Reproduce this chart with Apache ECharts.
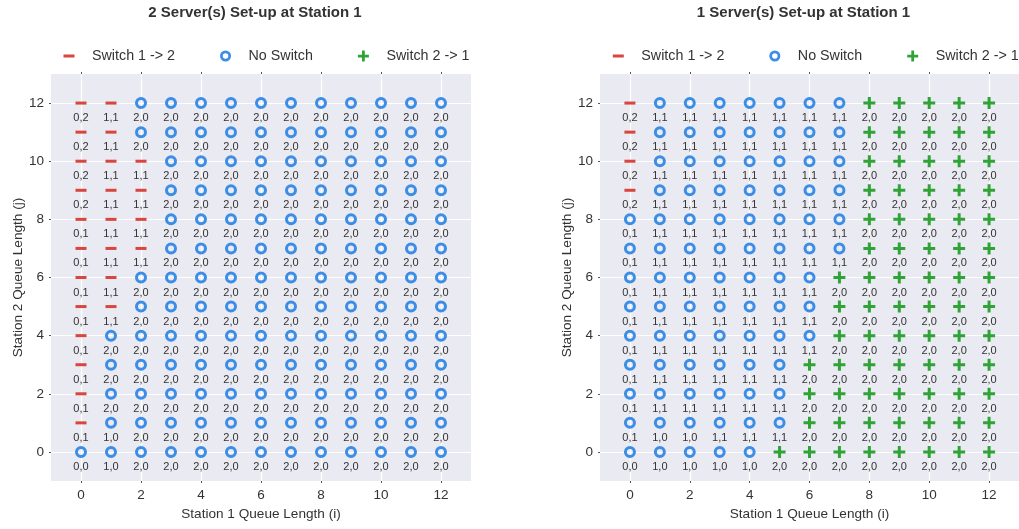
<!DOCTYPE html>
<html>
<head>
<meta charset="utf-8">
<script src="https://cdn.jsdelivr.net/npm/echarts@6/dist/echarts.min.js"></script>
<style>
  html, body { margin: 0; padding: 0; background: #ffffff; }
  #chart { width: 1019px; height: 529px; }
</style>
</head>
<body>
<div id="chart"></div>
<script>
// Queue lengths along both axes and the labelled ticks
const queueLengths = [0, 1, 2, 3, 4, 5, 6, 7, 8, 9, 10, 11, 12];
const tickValues = [0, 2, 4, 6, 8, 10, 12];

const panelTitles = ['2 Server(s) Set-up at Station 1', '1 Server(s) Set-up at Station 1'];
const actionNames = { '-': 'Switch 1 -> 2', 'o': 'No Switch', '+': 'Switch 2 -> 1' };

// Optimal action per state. Rows run from j = 12 (top) down to j = 0,
// columns from i = 0 to 12.  '-' = switch 1 -> 2, 'o' = no switch, '+' = switch 2 -> 1
const actionsTwoServers = [
  '--ooooooooooo',
  '--ooooooooooo',
  '---oooooooooo',
  '---oooooooooo',
  '---oooooooooo',
  '---oooooooooo',
  '--ooooooooooo',
  '--ooooooooooo',
  '-oooooooooooo',
  '-oooooooooooo',
  '-oooooooooooo',
  '-oooooooooooo',
  'ooooooooooooo'
];

// Resulting server allocation "station 1,station 2" for each state
const allocTwoServers = [
  '0,2 1,1 2,0 2,0 2,0 2,0 2,0 2,0 2,0 2,0 2,0 2,0 2,0',
  '0,2 1,1 2,0 2,0 2,0 2,0 2,0 2,0 2,0 2,0 2,0 2,0 2,0',
  '0,2 1,1 1,1 2,0 2,0 2,0 2,0 2,0 2,0 2,0 2,0 2,0 2,0',
  '0,2 1,1 1,1 2,0 2,0 2,0 2,0 2,0 2,0 2,0 2,0 2,0 2,0',
  '0,1 1,1 1,1 2,0 2,0 2,0 2,0 2,0 2,0 2,0 2,0 2,0 2,0',
  '0,1 1,1 1,1 2,0 2,0 2,0 2,0 2,0 2,0 2,0 2,0 2,0 2,0',
  '0,1 1,1 2,0 2,0 2,0 2,0 2,0 2,0 2,0 2,0 2,0 2,0 2,0',
  '0,1 1,1 2,0 2,0 2,0 2,0 2,0 2,0 2,0 2,0 2,0 2,0 2,0',
  '0,1 2,0 2,0 2,0 2,0 2,0 2,0 2,0 2,0 2,0 2,0 2,0 2,0',
  '0,1 2,0 2,0 2,0 2,0 2,0 2,0 2,0 2,0 2,0 2,0 2,0 2,0',
  '0,1 2,0 2,0 2,0 2,0 2,0 2,0 2,0 2,0 2,0 2,0 2,0 2,0',
  '0,1 1,0 2,0 2,0 2,0 2,0 2,0 2,0 2,0 2,0 2,0 2,0 2,0',
  '0,0 1,0 2,0 2,0 2,0 2,0 2,0 2,0 2,0 2,0 2,0 2,0 2,0'
];

const actionsOneServer = [
  '-ooooooo+++++',
  '-ooooooo+++++',
  '-ooooooo+++++',
  '-ooooooo+++++',
  'oooooooo+++++',
  'oooooooo+++++',
  'ooooooo++++++',
  'ooooooo++++++',
  'ooooooo++++++',
  'oooooo+++++++',
  'oooooo+++++++',
  'oooooo+++++++',
  'ooooo++++++++'
];

const allocOneServer = [
  '0,2 1,1 1,1 1,1 1,1 1,1 1,1 1,1 2,0 2,0 2,0 2,0 2,0',
  '0,2 1,1 1,1 1,1 1,1 1,1 1,1 1,1 2,0 2,0 2,0 2,0 2,0',
  '0,2 1,1 1,1 1,1 1,1 1,1 1,1 1,1 2,0 2,0 2,0 2,0 2,0',
  '0,2 1,1 1,1 1,1 1,1 1,1 1,1 1,1 2,0 2,0 2,0 2,0 2,0',
  '0,1 1,1 1,1 1,1 1,1 1,1 1,1 1,1 2,0 2,0 2,0 2,0 2,0',
  '0,1 1,1 1,1 1,1 1,1 1,1 1,1 1,1 2,0 2,0 2,0 2,0 2,0',
  '0,1 1,1 1,1 1,1 1,1 1,1 1,1 2,0 2,0 2,0 2,0 2,0 2,0',
  '0,1 1,1 1,1 1,1 1,1 1,1 1,1 2,0 2,0 2,0 2,0 2,0 2,0',
  '0,1 1,1 1,1 1,1 1,1 1,1 1,1 2,0 2,0 2,0 2,0 2,0 2,0',
  '0,1 1,1 1,1 1,1 1,1 1,1 2,0 2,0 2,0 2,0 2,0 2,0 2,0',
  '0,1 1,1 1,1 1,1 1,1 1,1 2,0 2,0 2,0 2,0 2,0 2,0 2,0',
  '0,1 1,0 1,0 1,1 1,1 1,1 2,0 2,0 2,0 2,0 2,0 2,0 2,0',
  '0,0 1,0 1,0 1,0 1,0 2,0 2,0 2,0 2,0 2,0 2,0 2,0 2,0'
];

const panels = [
  { actions: actionsTwoServers, alloc: allocTwoServers },
  { actions: actionsOneServer, alloc: allocOneServer }
];

// ---- styling ----
const FONT = '"Liberation Sans", Arial, sans-serif';
const TEXT = '#333333';
const PANEL_BG = '#eaeaf2';

const markerStyles = {
  '-': { symbol: 'path://M0,0H11V3H0Z', size: [11, 3], color: '#d9453f' },
  'o': { symbol: 'path://M6,0A6,6 0 1,1 6,12A6,6 0 1,1 6,0ZM6,3A3,3 0 1,0 6,9A3,3 0 1,0 6,3Z', size: 12, color: '#3b8de6' },
  '+': { symbol: 'path://M4.5,0h3v4.5h4.5v3h-4.5v4.5h-3v-4.5h-4.5v-3h4.5z', size: 12, color: '#2fa335' }
};

const layout = [
  { left: 51, titleX: 255, legendX: 63.5 },
  { left: 600, titleX: 803.5, legendX: 612.8 }
];

function pointsFor(panel, code) {
  const rows = panel.actions.length;
  const pts = [];
  panel.actions.forEach((row, r) => {
    const j = queueLengths[rows - 1 - r];
    const cells = panel.alloc[r].split(' ');
    row.split('').forEach((c, i) => {
      if (c === code) pts.push([queueLengths[i], j, cells[i]]);
    });
  });
  return pts;
}

const grid = [], xAxis = [], yAxis = [], series = [], title = [], legend = [];

panels.forEach((panel, k) => {
  const L = layout[k];
  grid.push({
    left: L.left, top: 74, width: 420, height: 407,
    show: true, backgroundColor: PANEL_BG, borderWidth: 0
  });
  const axisCommon = {
    type: 'value', min: -1, max: 13, interval: 1,
    axisLine: { show: false, onZero: false },
    axisTick: { show: true, length: 2, customValues: tickValues, lineStyle: { color: '#555' } },
    axisLabel: { customValues: tickValues, color: TEXT, fontSize: 13.5, fontFamily: FONT, margin: 7 },
    splitLine: { show: true, lineStyle: { color: '#ffffff', width: 1.2 } },
    nameLocation: 'middle',
    nameTextStyle: { color: TEXT, fontSize: 13.6, fontFamily: FONT }
  };
  xAxis.push(Object.assign({}, axisCommon, {
    gridIndex: k, position: 'bottom',
    name: 'Station 1 Queue Length (i)', nameGap: 24
  }));
  // mirrored ticks along the top edge
  xAxis.push({
    type: 'value', gridIndex: k, position: 'top', min: -1, max: 13, interval: 1,
    axisLine: { show: false, onZero: false },
    axisTick: { show: true, length: 2, customValues: tickValues, lineStyle: { color: '#555' } },
    axisLabel: { show: false },
    splitLine: { show: false }
  });
  yAxis.push(Object.assign({}, axisCommon, {
    gridIndex: k, position: 'left',
    name: 'Station 2 Queue Length (j)', nameGap: 26, nameRotate: 90
  }));

  title.push({
    text: panelTitles[k],
    left: L.titleX, top: 5, padding: 0, textAlign: 'center',
    textStyle: { color: TEXT, fontSize: 15, fontWeight: 'bold', fontFamily: FONT }
  });

  legend.push({
    left: L.legendX, top: 49, width: 440, padding: 0, orient: 'horizontal',
    itemWidth: 11, itemHeight: 11, itemGap: 45,
    selectedMode: false,
    data: Object.keys(actionNames).map(c => actionNames[c]),
    formatter: name => '{t|' + name + '}',
    textStyle: {
      color: TEXT, fontFamily: FONT, fontSize: 14.3,
      rich: { t: { color: TEXT, fontFamily: FONT, fontSize: 14.3, padding: [0, 0, 0, 12.5] } }
    }
  });

  Object.keys(actionNames).forEach(code => {
    const m = markerStyles[code];
    series.push({
      type: 'scatter',
      name: actionNames[code],
      xAxisIndex: k * 2,
      yAxisIndex: k,
      data: pointsFor(panel, code),
      symbol: m.symbol,
      symbolSize: m.size,
      itemStyle: { color: m.color, opacity: 1 },
      label: {
        show: true,
        position: 'inside',
        offset: [0, 15],
        formatter: p => p.data[2],
        color: TEXT, fontSize: 11, fontFamily: FONT
      },
      emphasis: { disabled: true },
      animation: false
    });
  });
});

const chart = echarts.init(document.getElementById('chart'), null, { renderer: 'canvas' });
chart.setOption({
  backgroundColor: '#ffffff',
  animation: false,
  title, legend, grid, xAxis, yAxis, series
});
</script>
</body>
</html>
